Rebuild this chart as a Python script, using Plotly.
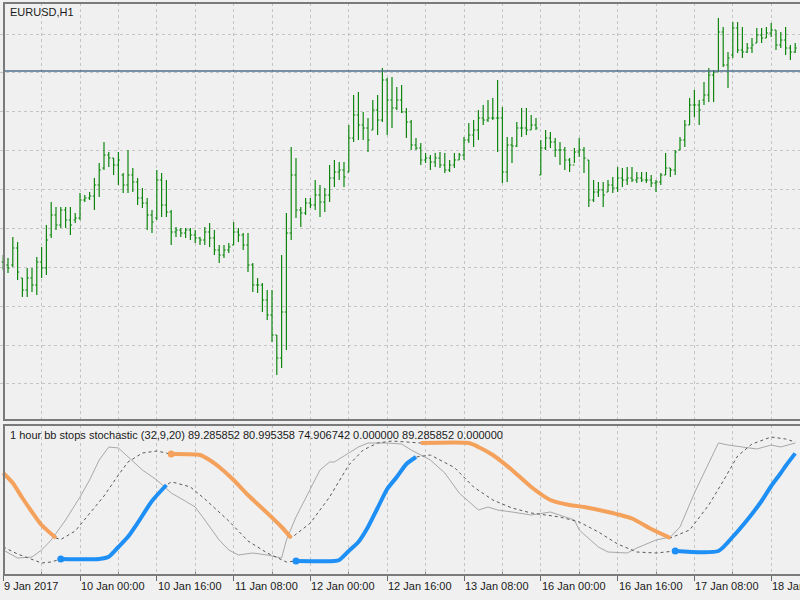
import plotly.graph_objects as go

# ---------------- price data (EURUSD H1, bar index 0 = 9 Jan 08:00) ----------------
bars = list(range(166))

open_ = [1.05690, 1.05675, 1.05675, 1.05760, 1.05610, 1.05550, 1.05610, 1.05575, 1.05690, 1.05660,
         1.05825, 1.05925, 1.05875, 1.05950, 1.05900, 1.05900, 1.05910, 1.06000, 1.06010, 1.06020,
         1.06075, 1.06160, 1.06225, 1.06210, 1.06175, 1.06125, 1.06075, 1.06125, 1.06090, 1.06010,
         1.05985, 1.05925, 1.05910, 1.06100, 1.05975, 1.05940, 1.05840, 1.05850, 1.05835, 1.05850,
         1.05825, 1.05810, 1.05800, 1.05840, 1.05810, 1.05750, 1.05725, 1.05750, 1.05775, 1.05840,
         1.05825, 1.05775, 1.05675, 1.05575, 1.05575, 1.05500, 1.05425, 1.05325, 1.05210, 1.05440,
         1.05835, 1.06125, 1.05950, 1.05935, 1.05985, 1.05975, 1.06025, 1.05990, 1.06025, 1.06110,
         1.06140, 1.06150, 1.06140, 1.06310, 1.06425, 1.06375, 1.06360, 1.06350, 1.06450, 1.06400,
         1.06600, 1.06500, 1.06460, 1.06500, 1.06440, 1.06390, 1.06275, 1.06260, 1.06200, 1.06210,
         1.06190, 1.06210, 1.06175, 1.06150, 1.06175, 1.06200, 1.06225, 1.06300, 1.06325, 1.06350,
         1.06410, 1.06400, 1.06410, 1.06410, 1.06410, 1.06140, 1.06275, 1.06270, 1.06360, 1.06360,
         1.06350, 1.06375, 1.06125, 1.06260, 1.06310, 1.06290, 1.06250, 1.06250, 1.06200, 1.06175,
         1.06240, 1.06250, 1.06200, 1.06000, 1.06040, 1.06050, 1.06040, 1.06075, 1.06060, 1.06110,
         1.06100, 1.06110, 1.06100, 1.06110, 1.06100, 1.06100, 1.06085, 1.06090, 1.06125, 1.06160,
         1.06150, 1.06250, 1.06300, 1.06375, 1.06475, 1.06475, 1.06500, 1.06525, 1.06625, 1.06640,
         1.06840, 1.06675, 1.06725, 1.06860, 1.06750, 1.06740, 1.06760, 1.06785, 1.06825, 1.06810,
         1.06835, 1.06850, 1.06775, 1.06800, 1.06760, 1.06740]

high = [1.05725, 1.05710, 1.05815, 1.05790, 1.05610, 1.05660, 1.05660, 1.05715, 1.05765, 1.05875,
        1.05990, 1.05965, 1.05965, 1.05965, 1.05965, 1.05935, 1.06035, 1.06025, 1.06040, 1.06110,
        1.06185, 1.06290, 1.06240, 1.06210, 1.06240, 1.06135, 1.06250, 1.06160, 1.06110, 1.06060,
        1.06010, 1.05950, 1.06150, 1.06135, 1.06100, 1.05950, 1.05865, 1.05860, 1.05860, 1.05860,
        1.05850, 1.05815, 1.05865, 1.05885, 1.05850, 1.05775, 1.05775, 1.05785, 1.05890, 1.05860,
        1.05835, 1.05835, 1.05685, 1.05610, 1.05585, 1.05550, 1.05550, 1.05325, 1.05725, 1.05935,
        1.06265, 1.06210, 1.05965, 1.06010, 1.06010, 1.06100, 1.06075, 1.06060, 1.06175, 1.06200,
        1.06190, 1.06190, 1.06375, 1.06525, 1.06540, 1.06440, 1.06410, 1.06500, 1.06525, 1.06660,
        1.06610, 1.06615, 1.06565, 1.06575, 1.06460, 1.06400, 1.06310, 1.06285, 1.06235, 1.06225,
        1.06235, 1.06240, 1.06235, 1.06200, 1.06235, 1.06235, 1.06315, 1.06385, 1.06400, 1.06450,
        1.06475, 1.06500, 1.06510, 1.06600, 1.06465, 1.06315, 1.06315, 1.06390, 1.06460, 1.06460,
        1.06425, 1.06410, 1.06300, 1.06350, 1.06340, 1.06310, 1.06290, 1.06265, 1.06210, 1.06260,
        1.06310, 1.06265, 1.06200, 1.06100, 1.06090, 1.06090, 1.06100, 1.06115, 1.06165, 1.06160,
        1.06165, 1.06165, 1.06140, 1.06140, 1.06140, 1.06125, 1.06100, 1.06135, 1.06235, 1.06160,
        1.06250, 1.06315, 1.06400, 1.06510, 1.06550, 1.06500, 1.06590, 1.06660, 1.06650, 1.06910,
        1.06865, 1.06740, 1.06890, 1.06890, 1.06865, 1.06785, 1.06810, 1.06860, 1.06860, 1.06865,
        1.06885, 1.06850, 1.06840, 1.06865, 1.06775, 1.06785]

low = [1.05650, 1.05635, 1.05665, 1.05600, 1.05515, 1.05515, 1.05540, 1.05525, 1.05610, 1.05625,
       1.05810, 1.05850, 1.05860, 1.05860, 1.05825, 1.05885, 1.05900, 1.05990, 1.06000, 1.05950,
       1.06015, 1.06150, 1.06165, 1.06125, 1.06075, 1.06035, 1.06035, 1.06040, 1.05975, 1.05960,
       1.05850, 1.05835, 1.05900, 1.05915, 1.05915, 1.05775, 1.05815, 1.05815, 1.05810, 1.05800,
       1.05785, 1.05775, 1.05775, 1.05765, 1.05725, 1.05685, 1.05710, 1.05735, 1.05775, 1.05790,
       1.05750, 1.05640, 1.05540, 1.05535, 1.05440, 1.05400, 1.05290, 1.05125, 1.05160, 1.05250,
       1.05800, 1.05910, 1.05865, 1.05925, 1.05960, 1.05950, 1.05915, 1.05940, 1.05990, 1.06065,
       1.06100, 1.06065, 1.06140, 1.06290, 1.06300, 1.06300, 1.06240, 1.06350, 1.06325, 1.06390,
       1.06325, 1.06360, 1.06450, 1.06435, 1.06310, 1.06250, 1.06250, 1.06175, 1.06185, 1.06150,
       1.06165, 1.06160, 1.06135, 1.06140, 1.06160, 1.06200, 1.06200, 1.06285, 1.06265, 1.06300,
       1.06375, 1.06390, 1.06400, 1.06240, 1.06085, 1.06090, 1.06185, 1.06265, 1.06315, 1.06325,
       1.06350, 1.06350, 1.06125, 1.06250, 1.06260, 1.06215, 1.06175, 1.06150, 1.06140, 1.06185,
       1.06215, 1.06135, 1.05965, 1.05990, 1.06015, 1.05965, 1.06040, 1.06035, 1.06040, 1.06065,
       1.06075, 1.06090, 1.06085, 1.06090, 1.06085, 1.06065, 1.06040, 1.06075, 1.06125, 1.06115,
       1.06125, 1.06250, 1.06265, 1.06375, 1.06415, 1.06375, 1.06475, 1.06490, 1.06490, 1.06640,
       1.06665, 1.06560, 1.06710, 1.06735, 1.06710, 1.06735, 1.06735, 1.06785, 1.06785, 1.06810,
       1.06815, 1.06750, 1.06760, 1.06725, 1.06700, 1.06735]

close = [1.05675, 1.05660, 1.05760, 1.05640, 1.05550, 1.05610, 1.05575, 1.05690, 1.05660, 1.05800,
         1.05925, 1.05875, 1.05950, 1.05900, 1.05875, 1.05910, 1.06000, 1.06010, 1.06020, 1.06075,
         1.06150, 1.06225, 1.06210, 1.06175, 1.06200, 1.06075, 1.06125, 1.06090, 1.06010, 1.05985,
         1.05925, 1.05890, 1.06100, 1.05975, 1.05940, 1.05840, 1.05850, 1.05835, 1.05850, 1.05825,
         1.05810, 1.05800, 1.05840, 1.05810, 1.05750, 1.05725, 1.05750, 1.05765, 1.05840, 1.05825,
         1.05775, 1.05675, 1.05575, 1.05575, 1.05500, 1.05425, 1.05325, 1.05210, 1.05440, 1.05835,
         1.06125, 1.05950, 1.05935, 1.05985, 1.05975, 1.06025, 1.05990, 1.06025, 1.06110, 1.06140,
         1.06150, 1.06115, 1.06310, 1.06425, 1.06375, 1.06360, 1.06300, 1.06450, 1.06400, 1.06600,
         1.06500, 1.06460, 1.06500, 1.06440, 1.06390, 1.06275, 1.06260, 1.06200, 1.06210, 1.06190,
         1.06210, 1.06175, 1.06150, 1.06175, 1.06200, 1.06225, 1.06300, 1.06325, 1.06350, 1.06410,
         1.06400, 1.06410, 1.06410, 1.06410, 1.06140, 1.06275, 1.06270, 1.06360, 1.06360, 1.06350,
         1.06375, 1.06360, 1.06260, 1.06310, 1.06290, 1.06250, 1.06250, 1.06200, 1.06175, 1.06240,
         1.06250, 1.06210, 1.06000, 1.06040, 1.06050, 1.06025, 1.06075, 1.06060, 1.06110, 1.06100,
         1.06110, 1.06100, 1.06110, 1.06100, 1.06100, 1.06085, 1.06090, 1.06125, 1.06160, 1.06150,
         1.06240, 1.06300, 1.06375, 1.06475, 1.06475, 1.06450, 1.06525, 1.06625, 1.06640, 1.06840,
         1.06675, 1.06710, 1.06860, 1.06750, 1.06740, 1.06760, 1.06775, 1.06825, 1.06810, 1.06835,
         1.06850, 1.06775, 1.06800, 1.06760, 1.06740, 1.06760]

hline_price = 1.06645

# ---------------- time axis labels ----------------
tick_idx = [0, 16, 32, 48, 64, 80, 96, 112, 128, 144, 160]
tick_text = ["9 Jan 2017", "10 Jan 00:00", "10 Jan 16:00", "11 Jan 08:00", "12 Jan 00:00",
             "12 Jan 16:00", "13 Jan 08:00", "16 Jan 00:00", "16 Jan 16:00", "17 Jan 08:00",
             "18 Jan 00:00"]
minor_idx = [8, 24, 40, 56, 72, 88, 104, 120, 136, 152]

# ---------------- indicator data ----------------
stoch_x = [0, 3, 6, 8, 10, 13, 16, 18, 20, 22, 24, 26, 29, 32, 35, 38, 40, 42, 45, 47, 49, 52, 55, 58, 59,
           61, 66, 68, 69, 72, 74, 76, 80, 83, 85, 89, 92, 95, 99, 101, 103, 106, 110, 114, 119, 120,
           124, 126, 130, 132, 136, 139, 141, 144, 147, 149, 151, 155, 157, 160, 162, 165]
stoch_v = [12, 5.6, 6.4, 12, 20, 36, 54.4, 68, 84, 94.4, 93.6, 86.4, 76, 68, 57.6, 51, 46.4, 36, 20, 12,
           8, 9.6, 8, 5.6, 20, 38.4, 76, 82.4, 82.4, 89.6, 94.4, 97.6, 97.6, 96.8, 92, 84, 73.6, 57.6,
           44, 46.4, 44, 42.4, 40, 42.4, 36, 28, 14.4, 10.4, 9.6, 13.6, 20, 22.4, 30.4, 57.6, 81.6,
           97.6, 96, 93.6, 92.8, 96, 94.4, 97.6]

upper_x = [0, 2, 4, 6, 8, 11, 12, 15, 18, 21, 24, 26, 29, 32, 34, 35, 41, 43, 45, 48, 51, 55, 58, 60,
           64, 68, 72, 75, 78, 81, 84, 87, 97, 99, 102, 106, 110, 114, 118, 121, 126, 131, 135, 139,
           143, 147, 150, 153, 156, 160, 163, 165]
upper_v = [73.6, 65.6, 53.6, 42.4, 32, 21.6, 20.4, 27.2, 41.6, 55.2, 72, 82.4, 89.6, 91.2, 89.6, 88, 88,
           84, 78.4, 68, 56, 41.6, 30.4, 21.6, 33.6, 54.4, 80, 92, 97.6, 99.2, 98.4, 97.6, 97.6, 94.4,
           88, 76, 62.4, 52, 48, 46.4, 42.4, 37.2, 28.8, 21.6, 28, 48, 67.2, 87.2, 96.8, 102.4, 100.8,
           98.4]

lower_x = [0, 3, 8, 10, 12, 16, 20, 22, 24, 26, 28, 31, 34, 35, 36, 39, 42, 47, 51, 55, 59, 61, 65, 69,
           70, 72, 74, 76, 78, 80, 82, 84, 86, 89, 94, 98, 102, 106, 110, 114, 116, 120, 124, 128, 132,
           136, 139, 140, 144, 149, 152, 155, 158, 160, 162, 163, 165]
lower_v = [14.4, 8.8, 1.6, 2.4, 4.8, 4.0, 4.8, 6.6, 14.4, 22.6, 33.6, 51.2, 64, 66.4, 65.6, 62.4, 52.8,
           35.2, 19.2, 9.6, 2.4, 3.2, 2.4, 3.2, 4, 11.2, 18.4, 30.4, 45.6, 60.8, 70.4, 80.8, 86.4, 88,
           78, 62.4, 52, 45.6, 41.6, 39.2, 38.4, 34.4, 26.4, 16.8, 10.4, 9.6, 10.4, 11.2, 10.4, 11.2,
           22.6, 36, 51.2, 63.2, 73.6, 79.2, 88]

up1_x = [12, 20, 22, 24, 26, 28, 31, 34]
up1_v = [4.8, 4.8, 6.6, 14.4, 22.6, 33.6, 51.2, 64]
up2_x = [61, 69, 70, 72, 74, 76, 78, 80, 82, 84, 86]
up2_v = [3.2, 3.2, 4, 11.2, 18.4, 30.4, 45.6, 60.8, 70.4, 80.8, 86.4]
up3_x = [140, 149, 152, 155, 158, 160, 162, 163, 165]
up3_v = [11.2, 11.2, 22.6, 36, 51.2, 63.2, 73.6, 79.2, 89.29]

dn1_x = [0, 2, 4, 6, 8, 11]
dn1_v = [73.6, 65.6, 53.6, 42.4, 32, 21.6]
dn2_x = [35, 41, 43, 45, 48, 51, 55, 58, 60]
dn2_v = [88.8, 88, 84, 78.4, 68, 56, 41.6, 30.4, 21.6]
dn3_x = [87, 97, 99, 102, 106, 110, 114, 118, 121, 126, 131, 135, 139]
dn3_v = [97.6, 97.6, 94.4, 88, 76, 62.4, 52, 48, 46.4, 42.4, 37.2, 28.8, 21.6]

# ---------------- styling ----------------
BG = "#f0f0f0"
GREEN = "#0e870e"
ORANGE = "#f4a15c"
BLUE = "#1e8ff5"
GRID = "#c4c4c4"
FRAME = "#7a7a7a"
FONT = "Liberation Sans, Arial, sans-serif"
TXT = "#1a1a1a"

XR = [-3.2 / 4.8, (800 - 3.2) / 4.8]

fig = go.Figure()

fig.add_trace(go.Ohlc(
    x=bars, open=open_, high=high, low=low, close=close,
    xaxis="x", yaxis="y", tickwidth=0.35,
    increasing=dict(line=dict(color=GREEN, width=1.2)),
    decreasing=dict(line=dict(color=GREEN, width=1.2)),
    showlegend=False, hoverinfo="skip"))

fig.add_trace(go.Scatter(x=stoch_x, y=stoch_v, mode="lines", xaxis="x2", yaxis="y2",
                         line=dict(color="#a8a8a8", width=1), showlegend=False, hoverinfo="skip"))
fig.add_trace(go.Scatter(x=upper_x, y=upper_v, mode="lines", xaxis="x2", yaxis="y2",
                         line=dict(color="#5a5a5a", width=1, dash="3px,3px"),
                         showlegend=False, hoverinfo="skip"))
fig.add_trace(go.Scatter(x=lower_x, y=lower_v, mode="lines", xaxis="x2", yaxis="y2",
                         line=dict(color="#5a5a5a", width=1, dash="3px,3px"),
                         showlegend=False, hoverinfo="skip"))

up_x = up1_x + [None] + up2_x + [None] + up3_x
up_v = up1_v + [None] + up2_v + [None] + up3_v
dn_x = dn1_x + [None] + dn2_x + [None] + dn3_x
dn_v = dn1_v + [None] + dn2_v + [None] + dn3_v

fig.add_trace(go.Scatter(x=dn_x, y=dn_v, mode="lines", xaxis="x2", yaxis="y2",
                         line=dict(color=ORANGE, width=4, shape="spline", smoothing=0.6),
                         connectgaps=False, showlegend=False, hoverinfo="skip"))
fig.add_trace(go.Scatter(x=up_x, y=up_v, mode="lines", xaxis="x2", yaxis="y2",
                         line=dict(color=BLUE, width=4, shape="spline", smoothing=0.6),
                         connectgaps=False, showlegend=False, hoverinfo="skip"))

fig.add_trace(go.Scatter(x=[up1_x[0], up2_x[0], up3_x[0]], y=[up1_v[0], up2_v[0], up3_v[0]],
                         mode="markers", xaxis="x2", yaxis="y2",
                         marker=dict(color=BLUE, size=7), showlegend=False, hoverinfo="skip"))
fig.add_trace(go.Scatter(x=[dn2_x[0]], y=[dn2_v[0]], mode="markers", xaxis="x2", yaxis="y2",
                         marker=dict(color=ORANGE, size=7), showlegend=False, hoverinfo="skip"))

top_dom = [1 - 420 / 600, 1 - 3 / 600]
bot_dom = [1 - 575 / 600, 1 - 425 / 600]

annotations = [
    dict(text="EURUSD,H1", x=8 / 800, y=1 - 12 / 600, xref="paper", yref="paper",
         xanchor="left", yanchor="middle", showarrow=False, font=dict(family=FONT, size=11, color=TXT)),
    dict(text="1 hour bb stops stochastic (32,9,20) 89.285852 80.995358 74.906742 0.000000 89.285852 0.000000",
         x=8 / 800, y=1 - 435 / 600, xref="paper", yref="paper",
         xanchor="left", yanchor="middle", showarrow=False, font=dict(family=FONT, size=11, color=TXT)),
]
for i, t in zip(tick_idx, tick_text):
    annotations.append(dict(text=t, x=i, y=1 - 586 / 600, xref="x2", yref="paper",
                            xanchor="left", yanchor="middle", showarrow=False, xshift=-1,
                            font=dict(family=FONT, size=11, color=TXT)))

shapes = [
    dict(type="line", xref="paper", yref="y", x0=4 / 800, x1=1.0, y0=hline_price, y1=hline_price,
         line=dict(color="#50708c", width=1.3), layer="above"),
    dict(type="rect", xref="paper", yref="paper", x0=4 / 800, x1=1.02, y0=top_dom[0], y1=top_dom[1],
         line=dict(color=FRAME, width=2), fillcolor="rgba(0,0,0,0)", layer="above"),
    dict(type="rect", xref="paper", yref="paper", x0=4 / 800, x1=1.02, y0=bot_dom[0], y1=bot_dom[1],
         line=dict(color=FRAME, width=2), fillcolor="rgba(0,0,0,0)", layer="above"),
]

fig.update_layout(
    width=800, height=600, margin=dict(l=0, r=0, t=0, b=0),
    paper_bgcolor=BG, plot_bgcolor=BG, showlegend=False,
    xaxis=dict(domain=[0, 1], anchor="y", range=XR, showticklabels=False, ticks="",
               tickmode="linear", tick0=0, dtick=8, showgrid=True, gridcolor=GRID,
               griddash="3px,3px", gridwidth=1, zeroline=False, showline=False,
               rangeslider=dict(visible=False)),
    yaxis=dict(domain=top_dom, anchor="x", range=[1.049, 1.06985], tickmode="linear",
               tick0=1.0683, dtick=0.001944, showgrid=True, gridcolor=GRID, griddash="3px,3px",
               gridwidth=1, showticklabels=False, ticks="", zeroline=False, showline=False),
    xaxis2=dict(domain=[0, 1], anchor="y2", range=XR, showticklabels=False,
                tickmode="array", tickvals=tick_idx, ticks="outside", ticklen=5,
                tickcolor="#6a6a6a", tickwidth=1, showgrid=True, gridcolor=GRID,
                griddash="3px,3px", gridwidth=1, zeroline=False, showline=False,
                minor=dict(tickvals=minor_idx, ticks="inside", ticklen=3, tickcolor="#8a8a8a",
                           showgrid=True, gridcolor=GRID, griddash="3px,3px", gridwidth=1)),
    yaxis2=dict(domain=bot_dom, anchor="x2", range=[-8, 112], showgrid=False,
                showticklabels=False, ticks="", zeroline=False, showline=False),
    annotations=annotations, shapes=shapes,
)

fig.write_html("out.html", config={"displayModeBar": False})
